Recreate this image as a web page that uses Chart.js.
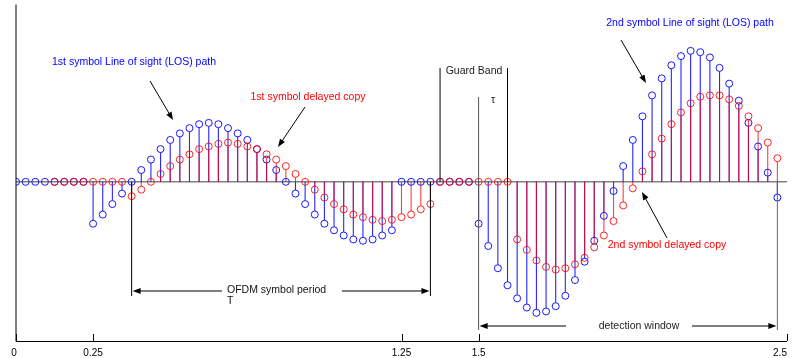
<!DOCTYPE html>
<html>
<head>
<meta charset="utf-8">
<script src="https://cdn.jsdelivr.net/npm/chart.js@4.4.1/dist/chart.umd.min.js"></script>
<style>
html,body{margin:0;padding:0;background:#fff;}
#wrap{width:794px;height:358px;position:relative;}
</style>
</head>
<body>
<div id="wrap"><canvas id="c" width="794" height="358"></canvas></div>
<script>
// sample times (x axis)
const sampleTimes = [
 0,0.03125,0.0625,0.09375,0.125,0.15625,0.1875,0.21875,
 0.25,0.28125,0.3125,0.34375,0.375,0.40625,0.4375,0.46875,
 0.5,0.53125,0.5625,0.59375,0.625,0.65625,0.6875,0.71875,
 0.75,0.78125,0.8125,0.84375,0.875,0.90625,0.9375,0.96875,
 1,1.03125,1.0625,1.09375,1.125,1.15625,1.1875,1.21875,
 1.25,1.28125,1.3125,1.34375,1.375,1.40625,1.4375,1.46875,
 1.5,1.53125,1.5625,1.59375,1.625,1.65625,1.6875,1.71875,
 1.75,1.78125,1.8125,1.84375,1.875,1.90625,1.9375,1.96875,
 2,2.03125,2.0625,2.09375,2.125,2.15625,2.1875,2.21875,
 2.25,2.28125,2.3125,2.34375,2.375,2.40625,2.4375,2.46875
];
// line-of-sight path (blue)
const losPath = [
 0,0,0,0,0,0,0,0,
 -0.32,-0.25,-0.17,-0.09,0,0.09,0.17,0.25,
 0.32,0.37,0.41,0.44,0.45,0.44,0.41,0.37,
 0.32,0.25,0.17,0.09,0,-0.09,-0.17,-0.25,
 -0.32,-0.37,-0.41,-0.44,-0.45,-0.44,-0.41,-0.37,
 0,0,0,0,0,0,0,0,
 -0.32,-0.49,-0.66,-0.79,-0.89,-0.96,-1.00,-0.99,
 -0.95,-0.87,-0.75,-0.61,-0.45,-0.26,-0.07,0.12,
 0.32,0.50,0.66,0.79,0.89,0.96,1.00,0.99,
 0.95,0.87,0.75,0.62,0.45,0.27,0.07,-0.12
];
// delayed copy (red)
const delayedCopy = [
 null,null,null,null,0,0,0,0,
 0,0,0,0,-0.11,-0.06,0,0.06,
 0.12,0.17,0.21,0.25,0.27,0.29,0.30,0.29,
 0.27,0.25,0.21,0.17,0.12,0.06,0,-0.06,
 -0.12,-0.17,-0.21,-0.25,-0.27,-0.29,-0.30,-0.29,
 -0.27,-0.25,-0.21,-0.17,0,0,0,0,
 0,0,0,0,-0.44,-0.52,-0.60,-0.65,
 -0.67,-0.66,-0.63,-0.58,-0.50,-0.41,-0.30,-0.18,
 -0.05,0.08,0.21,0.33,0.44,0.53,0.60,0.65,
 0.66,0.66,0.63,0.58,0.50,0.41,0.30,0.18
];
const tickValues = [0, 0.25, 1.25, 1.5, 2.5];
const tickLabels = ["0", "0.25", "1.25", "1.5", "2.5"];

const toPts = (arr) => sampleTimes.map((t, i) => ({x: t, y: arr[i]}));

const FONT = '10.5px "Liberation Sans", Arial, Helvetica, sans-serif';

function arrow(ctx, x1, y1, x2, y2, color) {
  ctx.save();
  ctx.strokeStyle = color; ctx.fillStyle = color; ctx.lineWidth = 1;
  const ang = Math.atan2(y2 - y1, x2 - x1);
  const L = 8, W = 3;
  ctx.beginPath(); ctx.moveTo(x1, y1);
  ctx.lineTo(x2 - Math.cos(ang) * (L - 1), y2 - Math.sin(ang) * (L - 1)); ctx.stroke();
  ctx.beginPath();
  ctx.moveTo(x2, y2);
  ctx.lineTo(x2 - L * Math.cos(ang) + W * Math.sin(ang), y2 - L * Math.sin(ang) - W * Math.cos(ang));
  ctx.lineTo(x2 - L * Math.cos(ang) - W * Math.sin(ang), y2 - L * Math.sin(ang) + W * Math.cos(ang));
  ctx.closePath(); ctx.fill();
  ctx.restore();
}
function vline(ctx, x, y1, y2, color, w) {
  ctx.save(); ctx.strokeStyle = color; ctx.lineWidth = w || 1;
  ctx.beginPath(); ctx.moveTo(x, y1); ctx.lineTo(x, y2); ctx.stroke(); ctx.restore();
}
function text(ctx, s, x, y, color, align) {
  ctx.save(); ctx.font = FONT; ctx.fillStyle = color;
  ctx.textAlign = align || 'center'; ctx.textBaseline = 'middle';
  ctx.fillText(s, x, y); ctx.restore();
}

const stemPlugin = {
  id: 'stems',
  beforeDatasetsDraw(chart) {
    const ctx = chart.ctx, xs = chart.scales.x, ys = chart.scales.y;
    const y0 = ys.getPixelForValue(0);
    ctx.save();
    // baseline
    ctx.strokeStyle = '#808080'; ctx.lineWidth = 1.5;
    ctx.beginPath(); ctx.moveTo(xs.getPixelForValue(0), y0); ctx.lineTo(xs.getPixelForValue(2.5), y0); ctx.stroke();
    const drawStems = (arr, color) => {
      ctx.strokeStyle = color; ctx.lineWidth = 1.1;
      arr.forEach((v, i) => {
        if (v === null || v === 0) return;
        const px = xs.getPixelForValue(sampleTimes[i]);
        const py = ys.getPixelForValue(v);
        const r = 3.5 * Math.sign(v);
        ctx.beginPath(); ctx.moveTo(px, y0); ctx.lineTo(px, py + r); ctx.stroke();
      });
    };
    drawStems(losPath, 'rgba(0,0,255,0.85)');
    drawStems(delayedCopy, 'rgba(255,0,0,0.75)');
    ctx.restore();
  },
  afterDatasetsDraw(chart) {
    const ctx = chart.ctx, xs = chart.scales.x, ys = chart.scales.y;
    const ca = chart.chartArea;
    const X = v => xs.getPixelForValue(v);
    const Y = v => ys.getPixelForValue(v);
    const y0 = Y(0);
    ctx.save();
    // axes
    ctx.strokeStyle = '#000'; ctx.lineWidth = 1;
    ctx.beginPath(); ctx.moveTo(ca.left, ca.top); ctx.lineTo(ca.left, ca.bottom + 0.5);
    ctx.lineTo(X(2.5), ca.bottom + 0.5); ctx.stroke();
    tickValues.forEach((t, i) => {
      const px = Math.round(X(t)) + 0.5;
      ctx.beginPath(); ctx.moveTo(px, ca.bottom); ctx.lineTo(px, ca.bottom - 7); ctx.stroke();
      let lx = X(t);
      if (i === 0) lx -= 2;
      if (i === tickValues.length - 1) lx = Math.min(lx, 794 - 14);
      ctx.font = '10px "Liberation Sans", Arial, sans-serif'; ctx.fillStyle = '#000';
      ctx.textAlign = 'center'; ctx.textBaseline = 'middle';
      ctx.fillText(tickLabels[i], lx, ca.bottom + 12);
    });
    ctx.restore();

    // OFDM symbol period bracket
    const xa = X(sampleTimes[12]), xb = X(sampleTimes[43]);
    vline(ctx, xa, y0, 296, '#000');
    vline(ctx, xb, y0, 296, '#000');
    arrow(ctx, 222, 291, xa + 1, 291, '#000');
    arrow(ctx, 342, 291, xb - 1, 291, '#000');
    text(ctx, 'OFDM symbol period', 227, 290, '#111', 'left');
    text(ctx, 'T', 227, 301, '#111', 'left');

    // guard band
    vline(ctx, X(sampleTimes[44]), 68, y0, '#000');
    vline(ctx, X(sampleTimes[51]), 68, y0, '#000');
    text(ctx, 'Guard Band', 474, 71, '#222');
    vline(ctx, X(1.5), 97, 330, '#555');
    text(ctx, 'τ', 493, 100, '#222');

    // detection window
    vline(ctx, X(sampleTimes[79]), y0, 330, '#666');
    arrow(ctx, 566, 326, X(1.5) + 1, 326, '#000');
    arrow(ctx, 692, 326, X(sampleTimes[79]) - 1, 326, '#000');
    text(ctx, 'detection window', 639, 326, '#222');

    // labels
    text(ctx, '1st symbol Line of sight (LOS) path', 134, 62, '#0000ff');
    arrow(ctx, 150, 81, 173, 120, '#000');
    text(ctx, '1st symbol delayed copy', 308, 97, '#ff0000');
    arrow(ctx, 305, 107, 278, 147, '#000');
    text(ctx, '2nd symbol Line of sight (LOS) path', 690, 23, '#0000ff');
    arrow(ctx, 621, 40, 646, 83, '#000');
    text(ctx, '2nd symbol delayed copy', 667, 245, '#ff0000');
    arrow(ctx, 667, 238, 642, 192, '#000');
  }
};

new Chart(document.getElementById('c'), {
  type: 'scatter',
  data: {
    datasets: [
      {
        label: 'delayed copy',
        data: toPts(delayedCopy),
        pointRadius: 3.5, pointHoverRadius: 3.5, pointBorderWidth: 1,
        pointBackgroundColor: 'rgba(0,0,0,0)',
        pointBorderColor: 'rgba(255,0,0,0.85)', showLine: false
      },
      {
        label: 'LOS path',
        data: toPts(losPath),
        pointRadius: 3.5, pointHoverRadius: 3.5, pointBorderWidth: 1,
        pointBackgroundColor: 'rgba(0,0,0,0)',
        pointBorderColor: 'rgba(0,0,255,0.9)', showLine: false
      }
    ]
  },
  options: {
    responsive: false,
    animation: false,
    devicePixelRatio: 1,
    layout: { padding: { left: 16, right: 7, top: 0, bottom: 17 } },
    plugins: { legend: { display: false }, tooltip: { enabled: false } },
    scales: {
      x: { type: 'linear', min: 0, max: 2.5, display: false },
      y: { type: 'linear', min: -1.2155, max: 1.354, display: false }
    }
  },
  plugins: [stemPlugin]
});
</script>
</body>
</html>
